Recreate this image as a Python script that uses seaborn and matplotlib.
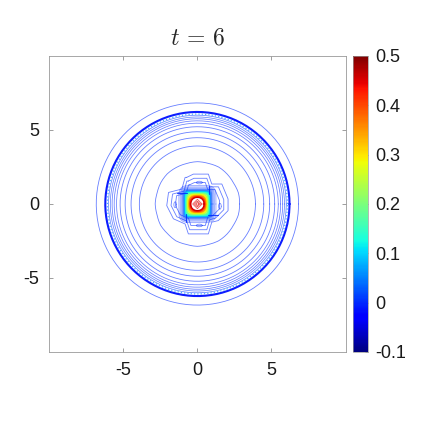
import numpy as np
import pandas as pd
import matplotlib
matplotlib.use('Agg')
import matplotlib.pyplot as plt
import seaborn as sns
from matplotlib.cm import ScalarMappable
from matplotlib.colors import Normalize

sns.set_style('white')
plt.rcParams['font.family'] = ['Liberation Sans', 'DejaVu Sans']
plt.rcParams['mathtext.fontset'] = 'cm'
plt.rcParams['axes.unicode_minus'] = False

# --- contour values ---
ring_radii = [6.83, 6.22, 6.0, 5.88, 5.76, 5.62, 5.46, 5.22, 4.88, 4.48, 3.92]
ring_levels = [0.0, -0.015, 0.01, 0.01, 0.0, 0.0, 0.0, 0.0, 0.0, 0.0, 0.0]
ring_widths = [0.6, 1.5, 0.55, 0.55, 0.55, 0.55, 0.55, 0.6, 0.6, 0.6, 0.6]
ring_alphas = [0.6, 0.95, 0.6, 0.6, 0.6, 0.6, 0.6, 0.6, 0.6, 0.6, 0.6]

# broken light contour just inside the thick ring
dotted_radii = [6.08]
dotted_levels = [0.06]

# wavy closed contour, radius every 15 degrees
wobble_angles = list(range(0, 360, 15))
wobble_outer = [2.85, 2.87, 2.82, 2.85, 2.88, 2.84, 2.86, 2.83, 2.85, 2.88, 2.86, 2.82,
                2.85, 2.82, 2.87, 2.84, 2.88, 2.83, 2.86, 2.83, 2.87, 2.85, 2.82, 2.86]

# pinwheel outline around the core
lobe_x = [-0.72, -0.27, 0.74, 0.97, 1.65, 2.07, 2.07, 1.41, 0.97, 0.74, -0.61, -0.83,
          -1.62, -2.07, -1.95, -1.05, -0.83, -0.72]
lobe_y = [1.8, 2.02, 2.02, 1.35, 1.35, 0.34, -0.45, -1.12, -1.23, -2.02, -2.02, -1.35,
          -1.0, -0.11, 0.78, 1.01, 1.8, 1.8]
lobe_scales = [1.0, 0.86, 0.72]

# small closed blobs inside the lobes: centre x, centre y, half axes
blob_x = [0.13, 1.52, 0.13, -1.5]
blob_y = [1.45, -0.15, -1.45, -0.05]
blob_a = [0.2, 0.09, 0.2, 0.09]
blob_b = [0.09, 0.2, 0.09, 0.2]

# square core: contour level, half width, squareness exponent
core_levels = [0.0, 0.0, 0.01, 0.01, 0.02, 0.03, 0.04, 0.05, 0.07, 0.09, 0.11, 0.13, 0.15, 0.17,
               0.2, 0.23, 0.26, 0.29, 0.32, 0.35, 0.38, 0.41, 0.44, 0.46]
core_sizes = [1.25, 1.15, 1.07, 1.0, 0.96, 0.92, 0.89, 0.86, 0.84, 0.82, 0.8, 0.78, 0.76, 0.74,
              0.71, 0.68, 0.65, 0.62, 0.59, 0.56, 0.53, 0.5, 0.47, 0.44]
core_powers = [5, 6, 8, 10, 10, 10, 10, 10, 10, 9, 8, 7, 6, 5, 5, 4, 4, 3.5, 3, 3, 2.6, 2.4, 2.2, 2.2]
core_alphas = [0.35, 0.35, 0.4, 0.45, 0.5, 0.55, 0.6, 0.65, 0.75, 0.85, 1, 1, 1, 1, 1, 1, 1, 1, 1, 1, 1, 1, 1, 1]

# rough red diamonds in the middle
diamond_sizes = [0.32, 0.2, 0.1]
diamond_levels = [0.44, 0.46, 0.44]

# streaks leaving the core corners: x0, x1, y0, y1
streak_x0 = [-1.4, 0.7, 0.8, -0.8]
streak_x1 = [-0.7, 1.4, 0.8, -0.8]
streak_y0 = [0.72, -0.72, 0.7, -0.7]
streak_y1 = [0.72, -0.72, 1.2, -1.2]

x_ticks = [-5, 0, 5]
cbar_ticks = [-0.1, 0, 0.1, 0.2, 0.3, 0.4, 0.5]
cbar_labels = ['-0.1', '0', '0.1', '0.2', '0.3', '0.4', '0.5']

cmap = plt.get_cmap('jet')
norm = Normalize(-0.1, 0.5)


def draw(ax, x, y, level, width, alpha=0.6, ls='-'):
    df = pd.DataFrame({'x': x, 'y': y})
    sns.lineplot(data=df, x='x', y='y', sort=False, estimator=None,
                 color=cmap(norm(level)), linewidth=width, alpha=alpha, linestyle=ls, ax=ax)


def closed_polar(radii):
    th = np.deg2rad(np.array(wobble_angles + [360]))
    r = np.array(list(radii) + [radii[0]])
    fine = np.linspace(0, 2 * np.pi, 145)
    rr = np.interp(fine, th, r)
    return rr * np.cos(fine), rr * np.sin(fine)


W = 423
fig = plt.figure(figsize=(4.23, 4.23), dpi=100)
ax = fig.add_axes([49.3 / W, 1 - 352 / W, 296.2 / W, 296 / W])
cax = fig.add_axes([353 / W, 1 - 352 / W, 15 / W, 296 / W])

t = np.linspace(0, 2 * np.pi, 200)
for r, lev, w, al in zip(ring_radii, ring_levels, ring_widths, ring_alphas):
    draw(ax, r * np.cos(t), r * np.sin(t), lev, w, al)
for r, lev in zip(dotted_radii, dotted_levels):
    draw(ax, r * np.cos(t), r * np.sin(t), lev, 0.9, 0.7, ':')

draw(ax, *closed_polar(wobble_outer), 0.0, 0.6)
for s in lobe_scales:
    draw(ax, s * np.array(lobe_x), s * np.array(lobe_y), 0.0, 0.6)

for bx, by, a, b in zip(blob_x, blob_y, blob_a, blob_b):
    draw(ax, bx + a * np.cos(t), by + b * np.sin(t), 0.0, 0.5)

for lev, s, p, al in zip(core_levels, core_sizes, core_powers, core_alphas):
    c, d = np.cos(t), np.sin(t)
    draw(ax, s * np.sign(c) * np.abs(c) ** (2 / p), s * np.sign(d) * np.abs(d) ** (2 / p), lev, 0.8, al)

for s, lev in zip(diamond_sizes, diamond_levels):
    draw(ax, s * np.array([1, 0, -1, 0, 1]), s * np.array([0, 1, 0, -1, 0]), lev, 0.5, 0.8)

for x0, x1, y0, y1 in zip(streak_x0, streak_x1, streak_y0, streak_y1):
    draw(ax, [x0, x1], [y0, y1], 0.0, 0.8, 0.85)

ax.set_xlim(-10, 10)
ax.set_ylim(-10, 10)
ax.set_aspect('auto')
ax.set_xlabel('')
ax.set_ylabel('')
ax.set_xticks(x_ticks)
ax.set_yticks(x_ticks)
ax.tick_params(direction='in', length=3, width=0.5, color='#777777', labelsize=13,
               top=True, right=True, bottom=True, left=True, pad=7, labelcolor='#1a1a1a')
for sp in ax.spines.values():
    sp.set_visible(True)
    sp.set_linewidth(0.6)
    sp.set_color('#999999')
ax.set_title(r'$t\,=\,6$', fontsize=17, pad=8)

cb = fig.colorbar(ScalarMappable(norm=norm, cmap=cmap), cax=cax)
cb.set_ticks(cbar_ticks)
cb.set_ticklabels(cbar_labels)
cb.ax.tick_params(direction='in', length=2, width=0.5, color='#777777', labelsize=13, pad=5, labelcolor='#1a1a1a')
cb.outline.set_linewidth(0.5)
cb.outline.set_edgecolor('#999999')

fig.savefig('out.png', dpi=100)
